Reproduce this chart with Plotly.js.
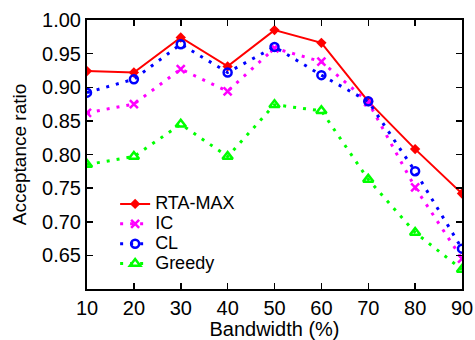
<!DOCTYPE html>
<html>
<head>
<meta charset="utf-8">
<script src="https://cdn.plot.ly/plotly-3.0.1.min.js"></script>
<style>html,body{margin:0;padding:0;background:#fff;}#chart{width:475px;height:340px;}</style>
</head>
<body>
<div id="chart"></div>
<script>
const bandwidth = [10, 20, 30, 40, 50, 60, 70, 80, 90];
const rtaMax = [0.924, 0.922, 0.974, 0.931, 0.985, 0.966, 0.879, 0.808, 0.742];
const ic = [0.862, 0.875, 0.927, 0.894, 0.958, 0.938, 0.878, 0.751, 0.645];
const cl = [0.892, 0.912, 0.964, 0.922, 0.960, 0.918, 0.879, 0.775, 0.660];
const greedy = [0.785, 0.797, 0.845, 0.797, 0.874, 0.865, 0.763, 0.684, 0.629];
const seriesNames = ['RTA-MAX', 'IC', 'CL', 'Greedy'];
const xTicks = [10, 20, 30, 40, 50, 60, 70, 80, 90];
const yTicks = [0.65, 0.70, 0.75, 0.80, 0.85, 0.90, 0.95, 1.00];

const fam = 'Liberation Sans, Arial, sans-serif';
const font = {family: fam, size: 20, color: '#000'};
const yTitleFont = {family: fam, size: 19, color: '#000'};
const titleFont = {family: fam, size: 20, color: '#000'};
const dotted = '3px,7px';
const lg = n => '<span style="font-size:18px">' + n + '</span>';

const traces = [
  {x: bandwidth, y: rtaMax, name: lg(seriesNames[0]), mode: 'lines+markers',
   line: {color: '#ff0000', width: 2}, marker: {symbol: 'diamond', size: 8, color: '#ff0000'}},
  {x: bandwidth, y: ic, name: lg(seriesNames[1]), mode: 'lines+markers',
   line: {color: '#ff00ff', width: 3, dash: dotted}, marker: {symbol: 'x-thin-open', size: 8, color: '#ff00ff', line: {color: '#ff00ff', width: 2.5}}},
  {x: bandwidth, y: cl, name: lg(seriesNames[2]), mode: 'lines+markers',
   line: {color: '#0000ff', width: 3, dash: dotted}, marker: {symbol: 'circle-open', size: 8, color: '#0000ff', line: {color: '#0000ff', width: 2.5}}},
  {x: bandwidth, y: greedy, name: lg(seriesNames[3]), mode: 'lines+markers',
   line: {color: '#00ff00', width: 3, dash: dotted}, marker: {symbol: 'triangle-up-open', size: 9, color: '#00ff00', line: {color: '#00ff00', width: 2.5}}}
];

const axisCommon = {
  showline: true, linecolor: '#000', linewidth: 2, mirror: 'ticks',
  ticks: 'inside', ticklen: 6, tickwidth: 1.5, tickcolor: '#000',
  showgrid: false, zeroline: false, tickfont: font
};

const layout = {
  width: 475, height: 340,
  margin: {l: 87, r: 13, t: 20, b: 51},
  paper_bgcolor: '#fff', plot_bgcolor: '#fff',
  font: font,
  showlegend: true,
  legend: {x: 0.075, y: 0.372, xanchor: 'left', yanchor: 'top', bgcolor: 'rgba(0,0,0,0)',
           font: {family: fam, size: 13, color: '#000'}, tracegroupgap: 0, itemwidth: 30},
  xaxis: Object.assign({}, axisCommon, {
    range: [10, 90], tickvals: xTicks, ticktext: xTicks.map(String),
    title: {text: 'Bandwidth (%)', font: titleFont, standoff: 8}
  }),
  yaxis: Object.assign({}, axisCommon, {
    range: [0.60, 1.00], tickvals: yTicks, ticktext: yTicks.map(v => v.toFixed(2)),
    title: {text: 'Acceptance ratio', font: yTitleFont, standoff: 10}
  })
};

Plotly.newPlot('chart', traces, layout, {displayModeBar: false, staticPlot: true});
</script>
</body>
</html>
